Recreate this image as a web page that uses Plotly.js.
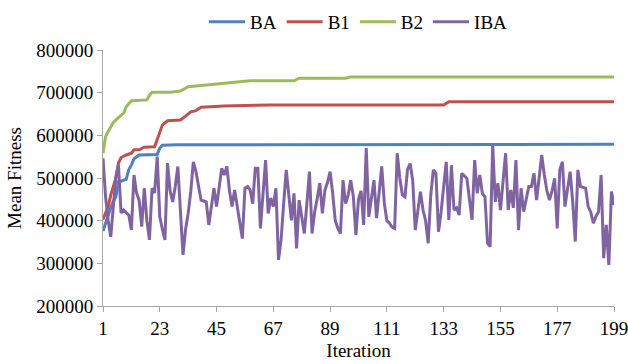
<!DOCTYPE html>
<html>
<head>
<meta charset="utf-8">
<script src="https://cdn.plot.ly/plotly-3.0.1.min.js"></script>
<style>html,body{margin:0;padding:0;background:#fff;}#chart{width:628px;height:364px;}</style>
</head>
<body>
<div id="chart"></div>
<script>
// Breakpoints of the step-like convergence curves (iteration, value)
const baX = [1,2,3,4,5,6,7,8,9,10,11,12,13,14,15,22,23,24,30,199];
const baY = [376000,395000,413000,430000,445000,456000,491000,492000,495000,497000,520000,530000,545000,550000,554000,555000,570000,577000,578000,579000];

const b1X = [1,2,3,4,5,6,7,8,9,10,12,13,15,16,17,21,22,23,24,26,31,33,35,37,39,48,66,133,135,199];
const b1Y = [403000,420000,433000,460000,480000,500000,535000,548000,551000,554000,558000,566000,566000,570000,572000,573000,590000,612000,624000,634000,636000,645000,655000,658000,666000,669000,671000,671000,679000,679000];

const b2X = [1,2,3,4,5,6,7,8,9,10,11,12,18,19,20,27,31,32,34,38,45,55,58,75,77,95,97,199];
const b2Y = [558000,597000,609000,620000,630000,636000,642000,648000,652000,667000,675000,681000,683000,694000,701000,701000,704000,708000,714000,716000,720000,726000,728000,728000,734000,734000,737000,737000];

// IBA mean fitness for iterations 1..199
const ibaY = [
546000,456000,400000,362000,433000,503000,530000,418000,425000,420000,
413000,378000,507000,465000,448000,386000,476000,400000,355000,476000,
465000,550000,409000,380000,355000,535000,470000,444000,480000,527000,
425000,320000,380000,417000,468000,538000,515000,480000,448000,446000,
444000,390000,430000,476000,433000,480000,523000,507000,527000,470000,
433000,472000,430000,400000,358000,476000,480000,472000,440000,523000,
523000,382000,460000,542000,417000,453000,433000,476000,308000,355000,
440000,519000,460000,401000,464000,335000,448000,410000,370000,440000,
515000,370000,420000,452000,488000,417000,472000,490000,515000,464000,
400000,382000,370000,495000,440000,460000,495000,456000,366000,450000,
470000,390000,570000,409000,450000,495000,406000,470000,527000,441000,
400000,394000,385000,382000,558000,500000,460000,456000,520000,534000,
495000,378000,420000,468000,425000,400000,347000,460000,519000,511000,
374000,420000,480000,538000,402000,530000,425000,430000,413000,511000,
505000,499000,450000,402000,542000,464000,507000,464000,456000,347000,
339000,577000,444000,488000,425000,490000,558000,425000,472000,430000,
542000,378000,476000,421000,450000,480000,480000,511000,448000,500000,
554000,507000,470000,448000,470000,499000,382000,519000,538000,433000,
480000,515000,444000,351000,519000,480000,478000,476000,433000,420000,
394000,410000,421000,507000,312000,390000,296000,468000,437000
];
const ibaX = ibaY.map((_, i) => i + 1);

const xTicks = [1,23,45,67,89,111,133,155,177,199];
const yTicks = [200000,300000,400000,500000,600000,700000,800000];

const font = {family: 'Liberation Serif, Times New Roman, serif', size: 19, color: '#000'};

const traces = [
  {x: baX, y: baY, name: 'BA', mode: 'lines', line: {color: '#4F81BD', width: 3}},
  {x: b1X, y: b1Y, name: 'B1', mode: 'lines', line: {color: '#C0504D', width: 3}},
  {x: b2X, y: b2Y, name: 'B2', mode: 'lines', line: {color: '#9BBB59', width: 3}},
  {x: ibaX, y: ibaY, name: 'IBA', mode: 'lines', line: {color: '#8064A2', width: 3}}
];

const layout = {
  width: 628, height: 364,
  margin: {l: 103, r: 14, t: 50, b: 58, autoexpand: false},
  paper_bgcolor: '#fff', plot_bgcolor: '#fff',
  font: font,
  showlegend: true,
  legend: {orientation: 'h', x: 0.5, xanchor: 'center', y: 1.11, yanchor: 'middle',
           font: font, itemwidth: 36, tracegroupgap: 0},
  xaxis: {
    range: [1, 199], tickmode: 'array', tickvals: xTicks, ticktext: xTicks.map(String),
    showgrid: false, zeroline: false, showline: true, linecolor: '#A6A6A6', linewidth: 1,
    ticks: 'outside', ticklen: 5, tickcolor: '#A6A6A6', tickfont: font, automargin: false,
    ticklabeloverflow: 'allow',
    title: {text: 'Iteration', font: font, standoff: 5}
  },
  yaxis: {
    range: [200000, 800000], tickmode: 'array', tickvals: yTicks, ticktext: yTicks.map(String),
    showgrid: false, zeroline: false, showline: true, linecolor: '#A6A6A6', linewidth: 1,
    ticks: 'outside', ticklen: 5, tickcolor: '#A6A6A6', tickfont: font, automargin: false,
    ticklabeloverflow: 'allow',
    title: {text: 'Mean Fitness', font: font, standoff: 9}
  }
};

Plotly.newPlot('chart', traces, layout, {displayModeBar: false, staticPlot: true});
</script>
</body>
</html>
